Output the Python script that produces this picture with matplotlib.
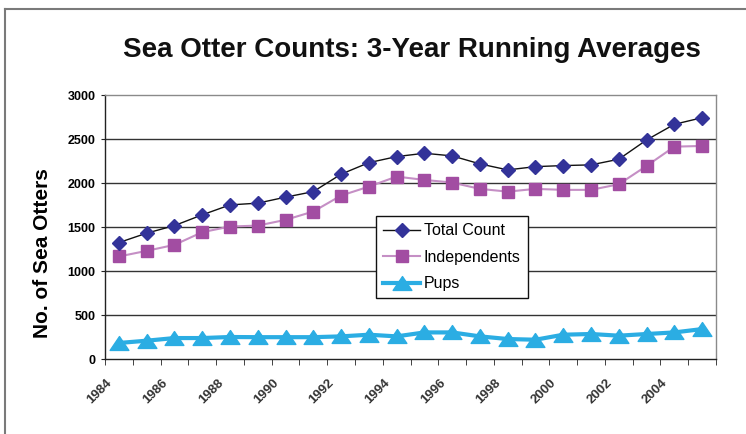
import matplotlib
matplotlib.use("Agg")
import matplotlib.pyplot as plt
from matplotlib.path import Path
from matplotlib.lines import Line2D
from matplotlib.transforms import ScaledTranslation
import numpy as np

years = list(range(1984, 2006))
total_count = [1323, 1430, 1516, 1638, 1751, 1771, 1839, 1902, 2100, 2231, 2300,
               2338, 2308, 2217, 2149, 2186, 2198, 2206, 2270, 2489, 2667, 2742]
independents = [1165, 1229, 1297, 1441, 1505, 1516, 1581, 1676, 1857, 1959, 2073,
                2035, 2005, 1933, 1902, 1933, 1922, 1922, 1986, 2194, 2413, 2421]
pups = [182, 208, 238, 238, 250, 248, 248, 248, 257, 276, 257,
        302, 302, 257, 227, 219, 276, 284, 265, 284, 302, 340]
y_ticks = [0, 500, 1000, 1500, 2000, 2500, 3000]
title = "Sea Otter Counts: 3-Year Running Averages"

plt.rcParams['font.family'] = ['Liberation Sans', 'DejaVu Sans']

fig = plt.figure(figsize=(7.46, 4.34), dpi=100)
W, H = 746, 434
ax = fig.add_axes([105 / W, 1 - 359 / H, 611 / W, 264 / H])

x = np.arange(len(years))
tri = Path([(0, 0.74), (-1, -0.74), (1, -0.74), (0, 0.74)],
           [Path.MOVETO, Path.LINETO, Path.LINETO, Path.CLOSEPOLY])

ax.plot(x, total_count, color='#111111', lw=1.0, marker='D', ms=7.2,
        mfc='#333399', mec='#333399', label='Total Count', zorder=4)
ax.plot(x, independents, color='#C58FC5', lw=1.5, marker='s', ms=9.2,
        mfc='#A24DA2', mec='#A24DA2', label='Independents', zorder=3)
ax.plot(x, pups, color='#2BADE3', lw=3.0, marker=tri, ms=13.5,
        mfc='#2BADE3', mec='#2BADE3', label='Pups', zorder=3)

ax.set_xlim(-0.5, len(years) - 0.5)
ax.set_ylim(0, 3000)

# grid
for v in y_ticks[1:-1]:
    ax.axhline(v, color='#333333', lw=1.0, zorder=1)

ax.spines['top'].set_color('#8a8a8a')
ax.spines['right'].set_color('#8a8a8a')
ax.spines['left'].set_color('#222222')
ax.spines['bottom'].set_color('#222222')
for s in ax.spines.values():
    s.set_linewidth(1.0)

ax.set_yticks(y_ticks)
ax.set_yticklabels([str(v) for v in y_ticks], fontsize=9, fontweight='bold')
ax.tick_params(axis='y', direction='out', length=3, pad=4, color='#222222')

ax.set_xticks(np.arange(-0.5, len(years)), minor=True)
ax.tick_params(axis='x', which='minor', direction='out', length=4, color='#222222')
lab_pos = x[::2]
ax.set_xticks(lab_pos)
ax.set_xticklabels([str(years[i]) for i in lab_pos], fontsize=9.5,
                   fontweight='bold', color='#333333', rotation=45,
                   ha='right', va='top', rotation_mode='anchor')
ax.tick_params(axis='x', which='major', length=0, pad=13)
off = ScaledTranslation(-13 / 100, 0, fig.dpi_scale_trans)
for lbl in ax.get_xticklabels():
    lbl.set_transform(lbl.get_transform() + off)

ax.set_ylabel("No. of Sea Otters", fontsize=15, fontweight='bold')
ax.yaxis.set_label_coords(-53 / 611, (359 - 253) / 264)

fig.text(412 / W, 1 - 50 / H, title, fontsize=20, fontweight='bold',
         ha='center', va='center', color='#111111')

leg = ax.legend(loc='upper left', bbox_to_anchor=(376 / W, 1 - 216 / H),
                bbox_transform=fig.transFigure, borderaxespad=0,
                fontsize=11.5, frameon=True, fancybox=False, framealpha=1,
                edgecolor='#111111', handlelength=2.3, handletextpad=0.25,
                borderpad=0.45, labelspacing=0.72)
leg.get_frame().set_linewidth(1.0)
leg.set_zorder(10)

# outer chart border (left and top)
fig.add_artist(Line2D([5 / W, 5 / W], [0, 1 - 9 / H], color='#7a7a7a', lw=1.5,
                      transform=fig.transFigure))
fig.add_artist(Line2D([5 / W, 1], [1 - 9 / H, 1 - 9 / H], color='#7a7a7a', lw=1.5,
                      transform=fig.transFigure))

fig.savefig("out.png", dpi=100)
